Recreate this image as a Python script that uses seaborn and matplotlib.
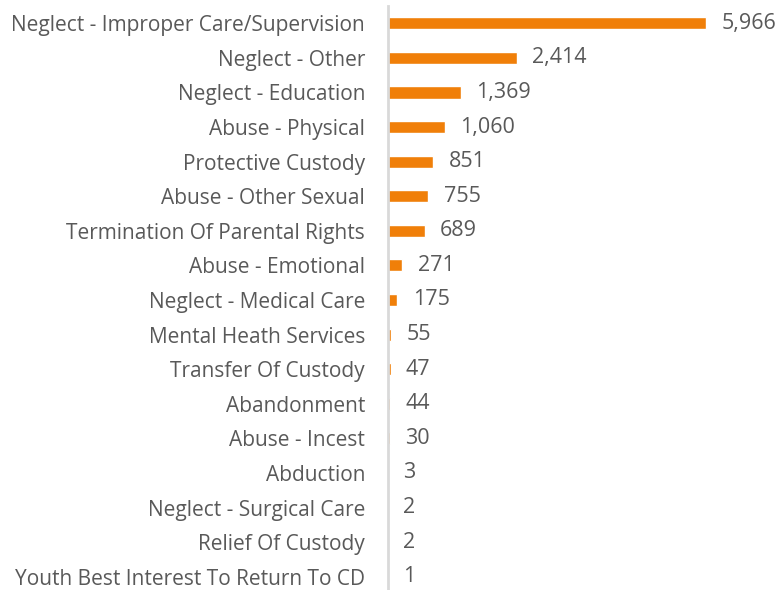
import pandas as pd
import matplotlib.pyplot as plt
import seaborn as sns

# ================= Data =================
categories = [
    "Neglect - Improper Care/Supervision", "Neglect - Other", "Neglect - Education",
    "Abuse - Physical", "Protective Custody", "Abuse - Other Sexual",
    "Termination Of Parental Rights", "Abuse - Emotional", "Neglect - Medical Care",
    "Mental Heath Services", "Transfer Of Custody", "Abandonment", "Abuse - Incest",
    "Abduction", "Neglect - Surgical Care", "Relief Of Custody",
    "Youth Best Interest To Return To CD",
]
counts = [5966, 2414, 1369, 1060, 851, 755, 689, 271, 175, 55, 47, 44, 30, 3, 2, 2, 1]

df = pd.DataFrame({"category": categories, "count": counts})

# ================= Plot =================
sns.set_style("white")
plt.rcParams["font.family"] = ["Open Sans", "DejaVu Sans"]
text_color = "#595959"

fig = plt.figure(figsize=(7.78, 5.90), dpi=100)
ax = fig.add_axes([388 / 778, 1 - 594 / 590, 390 / 778, 588 / 590])

sns.barplot(data=df, x="count", y="category", orient="h", color="#F07F09",
            width=0.35, saturation=1, ax=ax)

ax.set_xlim(0, 390 * 5966 / 318)
ax.set_xlabel("")
ax.set_ylabel("")
ax.set_xticks([])
ax.tick_params(axis="y", length=0, pad=16.5, labelsize=15, labelcolor=text_color)

for s in ["top", "right", "bottom"]:
    ax.spines[s].set_visible(False)
ax.spines["left"].set_color("#D9D9D9")
ax.spines["left"].set_linewidth(2)

ax.bar_label(ax.containers[0], labels=[f"{v:,}" for v in counts], padding=11,
             fontsize=15.5, color=text_color)

fig.savefig("out.png", dpi=100)
